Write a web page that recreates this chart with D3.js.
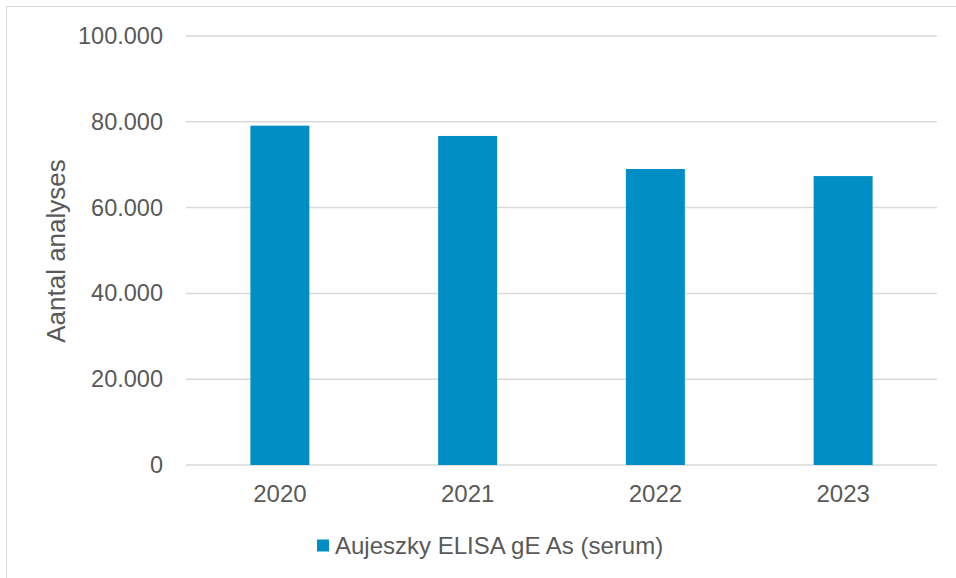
<!DOCTYPE html>
<html>
<head>
<meta charset="utf-8">
<script src="https://cdn.jsdelivr.net/npm/d3@7"></script>
<style>
  html, body { margin: 0; padding: 0; background: #fff; }
  svg { display: block; }
  text { font-family: "Liberation Sans", Arial, sans-serif; fill: #595959; }
</style>
</head>
<body>
<svg id="chart" width="956" height="578"></svg>
<script>
const categories = ["2020", "2021", "2022", "2023"];
const values = [79100, 76700, 69000, 67350];
const yTicks = [0, 20000, 40000, 60000, 80000, 100000];
const seriesName = "Aujeszky ELISA gE As (serum)";
const yTitle = "Aantal analyses";

const W = 956, H = 578;
const margin = { left: 186, right: 19, top: 36, bottom: 113 };
const svg = d3.select("#chart");

// frame
svg.append("rect")
  .attr("x", 6.5).attr("y", 6.5)
  .attr("width", W + 10).attr("height", H + 10)
  .attr("fill", "none").attr("stroke", "#d9d9d9").attr("stroke-width", 1);

const x = d3.scaleBand()
  .domain(categories)
  .range([margin.left, W - margin.right])
  .paddingInner(0.686)
  .paddingOuter(0.343);

const y = d3.scaleLinear()
  .domain([0, 100000])
  .range([H - margin.bottom, margin.top]);

const fmt = v => d3.format(",")(v).replace(/,/g, ".");

// gridlines
svg.append("g")
  .selectAll("line")
  .data(yTicks)
  .join("line")
  .attr("x1", margin.left).attr("x2", W - margin.right)
  .attr("y1", d => y(d)).attr("y2", d => y(d))
  .attr("stroke", "#d9d9d9").attr("stroke-width", 1.5);

// y axis labels
const yAxis = d3.axisLeft(y).tickValues(yTicks).tickFormat(fmt).tickSize(0).tickPadding(23);
const gy = svg.append("g").attr("transform", `translate(${margin.left},0)`).call(yAxis);
gy.select(".domain").remove();
gy.selectAll("text").attr("font-size", 23.5).attr("fill", "#595959")
  .style("font-family", '"Liberation Sans", Arial, sans-serif');

// bars
svg.append("g")
  .selectAll("rect")
  .data(values)
  .join("rect")
  .attr("x", (d, i) => x(categories[i]))
  .attr("width", x.bandwidth())
  .attr("y", d => y(d))
  .attr("height", d => y(0) - y(d))
  .attr("fill", "#008EC4");

// x axis labels
const xAxis = d3.axisBottom(x).tickSize(0).tickPadding(20);
const gx = svg.append("g").attr("transform", `translate(0,${y(0)})`).call(xAxis);
gx.select(".domain").remove();
gx.selectAll("text").attr("font-size", 24).attr("fill", "#595959")
  .style("font-family", '"Liberation Sans", Arial, sans-serif');

// y title
svg.append("text")
  .attr("transform", `translate(65,251) rotate(-90)`)
  .attr("text-anchor", "middle")
  .attr("font-size", 26)
  .text(yTitle);

// legend
const lg = svg.append("g");
lg.append("rect").attr("x", 317).attr("y", 539.5).attr("width", 12).attr("height", 12).attr("fill", "#008EC4");
lg.append("text").attr("x", 335).attr("y", 554).attr("font-size", 24).text(seriesName);
</script>
</body>
</html>
